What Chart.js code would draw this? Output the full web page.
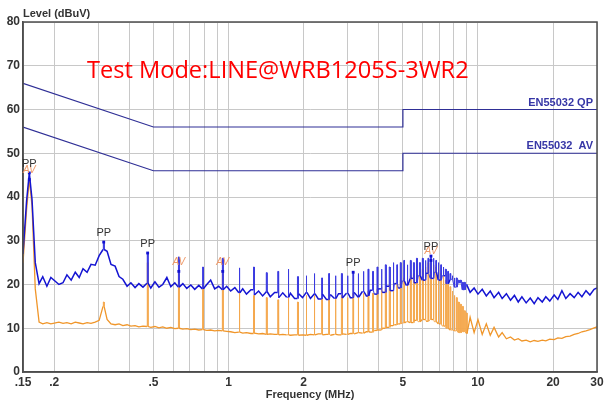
<!DOCTYPE html>
<html lang="en">
  <head>
    <meta charset="UTF-8" />
    <title>Conducted Emission - LINE</title>
    <script src="https://cdn.jsdelivr.net/npm/chart.js@4.4.0/dist/chart.umd.min.js"></script>
    <style>
      html,
      body {
        margin: 0;
        padding: 0;
        background: #fff;
      }
    </style>
  </head>
  <body>
    <canvas id="emiChart" width="604" height="405"></canvas>

    <script>
      // receiver sweep points (MHz) and the two detector traces (dBuV)
      const sweepMHz = [
        0.150, 0.155, 0.159, 0.163, 0.168, 0.174, 0.180, 0.187, 0.194, 0.209,
        0.217, 0.225, 0.234, 0.243, 0.252, 0.261, 0.271, 0.281, 0.292, 0.303,
        0.314, 0.326, 0.338, 0.351, 0.364, 0.377, 0.392, 0.406, 0.422, 0.437,
        0.454, 0.471, 0.488, 0.507, 0.526, 0.545, 0.566, 0.587, 0.609, 0.629,
        0.656, 0.680, 0.706, 0.732, 0.760, 0.786, 0.818, 0.848, 0.880, 0.913,
        0.945, 0.983, 1.02, 1.06, 1.10, 1.14, 1.18, 1.23, 1.27, 1.32,
        1.37, 1.42, 1.47, 1.53, 1.59, 1.65, 1.71, 1.77, 1.84, 1.91,
        1.98, 2.05, 2.13, 2.21, 2.29, 2.38, 2.47, 2.56, 2.66, 2.76,
        2.86, 2.97, 3.08, 3.19, 3.31, 3.44, 3.57, 3.70, 3.84, 3.98,
        4.13, 4.29, 4.45, 4.62, 4.79, 4.97, 5.16, 5.35, 5.55, 5.76,
        5.98, 6.20, 6.43, 6.68, 6.93, 7.19, 7.46, 7.74, 8.03, 8.33,
        8.64, 8.97, 9.30, 9.65, 10.0, 10.4, 10.8, 11.2, 11.6, 12.1,
        12.5, 13.0, 13.5, 14.0, 14.5, 15.0, 15.6, 16.2, 16.8, 17.4,
        18.1, 18.7, 19.4, 20.2, 20.9, 21.7, 22.5, 23.4, 24.3, 25.2,
        26.1, 27.1, 28.1, 29.2, 30.0,
      ];
      const peakTrace = [
        27, 39, 45.5, 39.5, 25, 20.2, 21.8, 19.6, 21.6, 20.0,
        20.4, 22.2, 21.0, 22.8, 21.6, 23.6, 22.8, 24.6, 24.4, 26.6,
        28.0, 27.6, 24.6, 24.2, 21.8, 21.2, 19.6, 20.4, 19.3, 20.2,
        19.4, 20.3, 19.2, 20.6, 19.4, 20.0, 21.6, 19.5, 20.4, 19.4,
        20.2, 19.1, 19.9, 18.9, 19.8, 19.0, 20.0, 21.0, 19.0, 19.6,
        18.8, 19.6, 18.5, 19.3, 18.1, 19.0, 17.8, 18.8, 17.6, 18.5,
        17.4, 18.4, 17.2, 18.2, 17.0, 18.1, 17.1, 18.0, 16.8, 17.9,
        17.0, 18.2, 16.8, 17.9, 16.7, 17.8, 16.6, 17.7, 16.8, 17.9,
        16.9, 18.0, 17.0, 18.2, 17.1, 18.4, 17.4, 18.7, 17.8, 19.0,
        18.2, 19.6, 18.6, 20.2, 19.2, 20.8, 19.8, 21.4, 20.4, 22.0,
        21.0, 22.6, 21.4, 22.8, 21.0, 22.0, 20.2, 21.2, 19.4, 20.4,
        18.8, 19.8, 18.2, 19.2, 17.8, 18.9, 17.4, 18.5, 17.0, 18.2,
        16.8, 17.9, 16.4, 17.5, 16.0, 17.2, 15.8, 16.9, 15.6, 17.0,
        16.0, 17.2, 16.2, 17.6, 16.6, 18.6, 16.8, 17.9, 17.0, 18.2,
        17.2, 18.6, 17.6, 18.9, 19.2,
      ];
      const avgTrace = [
        25, 37, 44, 38, 19, 11.4, 11.0, 11.3, 11.0, 11.4,
        11.1, 11.3, 11.0, 11.4, 11.2, 11.0, 11.3, 11.1, 11.4, 11.8,
        15.0, 12.0, 11.0, 10.8, 11.0, 10.6, 10.8, 10.5, 10.6, 10.3,
        10.5, 10.4, 10.2, 10.4, 10.1, 10.3, 10.0, 10.2, 9.9, 10.0,
        9.8, 9.9, 9.7, 9.8, 9.6, 9.7, 9.5, 9.6, 9.4, 9.5,
        9.4, 9.3, 9.2, 9.0, 9.1, 8.9, 9.0, 8.8, 8.9, 8.7,
        8.8, 8.6, 8.7, 8.6, 8.5, 8.6, 8.5, 8.4, 8.5, 8.4,
        8.5, 8.4, 8.6, 8.5, 8.7, 8.5, 8.6, 8.4, 8.6, 8.5,
        8.7, 8.6, 8.8, 8.7, 9.0, 8.9, 9.2, 9.1, 9.5, 9.6,
        10.0, 10.2, 10.6, 10.8, 11.0, 11.2, 11.5, 11.3, 11.8, 11.5,
        12.0, 11.6, 12.0, 11.5, 11.0, 10.5, 10.0, 9.6, 9.4, 9.0,
        9.2, 8.8, 12.5, 9.0, 12.0, 8.6, 11.0, 8.4, 10.2, 8.0,
        9.0, 7.6, 8.0, 7.3, 7.6, 7.1, 7.3, 6.9, 7.2, 7.0,
        7.3, 7.1, 7.5, 7.4, 7.8, 7.7, 8.1, 8.2, 8.6, 8.8,
        9.2, 9.4, 9.7, 10.1, 10.3,
      ];

      // harmonics of the ~158 kHz switcher and their spike tops
      const harmonicMHz = [
        0.316, 0.474, 0.632, 0.790, 0.948, 1.106, 1.264, 1.422, 1.580,
        1.738, 1.896, 2.054, 2.212, 2.370, 2.528, 2.686, 2.844, 3.002, 3.160,
        3.318, 3.476, 3.634, 3.792, 3.950, 4.108, 4.266, 4.424, 4.582, 4.740,
        4.898, 5.056, 5.214, 5.372, 5.530, 5.688, 5.846, 6.004, 6.162, 6.320,
        6.478, 6.636, 6.794, 6.952, 7.110, 7.268, 7.426, 7.584, 7.742, 7.900,
        8.058, 8.216, 8.374, 8.532, 8.690, 8.848, 9.006,
      ];
      const peakSpikes = [
        29.7, 27.2, 26.3, 24.0, 26.0, 23.8, 24.0, 22.7, 23.0,
        23.5, 21.8, 22.0, 22.5, 21.5, 22.5, 22.0, 22.5, 22.0, 22.8,
        22.5, 23.0, 23.5, 23.0, 24.0, 23.5, 24.5, 24.0, 25.0, 24.5,
        25.0, 25.5, 24.5, 25.5, 25.0, 26.0, 25.0, 26.0, 25.5, 26.0,
        26.5, 26.0, 25.5, 25.0, 24.5, 24.0, 23.5, 23.0, 22.5, 22.0,
        21.5, 21.5, 21.0, 21.0, 20.5, 20.5, 20.0,
      ];
      const avgSpikes = [
        16.0, 25.0, 23.5, 20.0, 23.0, 18.5, 17.5, 17.0, 16.5,
        17.0, 16.0, 17.5, 17.5, 17.0, 17.5, 17.0, 17.5, 17.0, 18.0,
        17.5, 18.0, 18.5, 18.0, 19.0, 19.5, 19.0, 20.0, 20.5, 20.0,
        21.0, 21.5, 21.0, 22.0, 22.5, 22.0, 23.0, 23.5, 24.0, 25.0,
        25.5, 24.5, 24.0, 23.5, 22.5, 22.0, 21.0, 20.0, 19.5, 18.5,
        17.5, 17.0, 16.0, 15.5, 15.0, 14.0, 13.5,
      ];

      // EN55032 class B limits
      const limitMHz = [0.15, 0.5, 5, 5, 30];
      const qpLimit = [66, 56, 56, 60, 60];
      const avLimit = [56, 46, 46, 50, 50];

      // markers
      const ppMHz = [0.159, 0.316, 0.474, 3.16, 6.478];
      const ppLevel = [45.5, 29.7, 27.2, 22.8, 26.5];
      const avMHz = [0.159, 0.632, 0.948, 6.478];
      const avLevel = [44.0, 23.0, 23.0, 25.5];

      // axis
      const gridMHz = [0.15, 0.2, 0.3, 0.4, 0.5, 0.6, 0.7, 0.8, 0.9, 1, 2, 3, 4, 5, 6, 7, 8, 9, 10, 20, 30];
      const xTickMHz = [0.15, 0.2, 0.5, 1, 2, 5, 10, 20, 30];
      const xTickText = [".15", ".2", ".5", "1", "2", "5", "10", "20", "30"];

      // each spike becomes a narrow flat-topped stroke standing on the trace
      const SPIKE_HALF = 1.0035;
      function withSpikes(freqs, levels, spikeF, spikeL) {
        const out = [];
        let s = 0;
        for (let i = 0; i < freqs.length; i++) {
          out.push({ x: freqs[i], y: levels[i] });
          const next = i + 1 < freqs.length ? freqs[i + 1] : Infinity;
          while (s < spikeF.length && spikeF[s] < next) {
            if (spikeF[s] >= freqs[i]) {
              const foot = levels[i];
              const lo = spikeF[s] / SPIKE_HALF;
              const hi = spikeF[s] * SPIKE_HALF;
              out.push({ x: lo, y: foot }, { x: lo, y: spikeL[s] }, { x: hi, y: spikeL[s] }, { x: hi, y: foot });
            }
            s++;
          }
        }
        return out;
      }

      // spike strokes are drawn a little thinner and paler, like the plotter does
      const spikeSegment = (base, pale) => ({
        borderColor: (c) => (Math.abs(c.p0.x - c.p1.x) < 1.5 ? pale : base),
        borderWidth: (c) => (Math.abs(c.p0.x - c.p1.x) < 1.5 ? 1 : undefined),
      });

      const pairs = (xs, ys) => xs.map((v, i) => ({ x: v, y: ys[i] }));

      const labelFont = 'bold 11px "Liberation Sans", Arial, sans-serif';

      const overlay = {
        id: "overlay",
        afterDraw(chart) {
          const { ctx, chartArea: a } = chart;
          const x = chart.scales.x;
          const y = chart.scales.y;
          ctx.save();

          ctx.strokeStyle = "#4d4d4d";
          ctx.lineWidth = 1.5;
          ctx.strokeRect(a.left, a.top, a.right - a.left, a.bottom - a.top);

          ctx.fillStyle = "#333";
          ctx.font = labelFont;
          ctx.textBaseline = "middle";
          ctx.textAlign = "left";
          ctx.fillText("Level (dBuV)", a.left, a.top - 8);
          ctx.textAlign = "center";
          ctx.fillText("Frequency (MHz)", (a.left + a.right) / 2, a.bottom + 23);

          ctx.fillStyle = "#3636a6";
          ctx.textAlign = "right";
          ctx.fillText("EN55032 QP", a.right - 4, y.getPixelForValue(qpLimit[4]) - 7);
          ctx.fillText("EN55032  AV", a.right - 4, y.getPixelForValue(avLimit[4]) - 7);

          ctx.textAlign = "center";
          ctx.font = 'italic 10px "Liberation Sans", Arial, sans-serif';
          ctx.fillStyle = "#ee9a6a";
          avMHz.forEach((f, i) => {
            ctx.fillText("AV", x.getPixelForValue(f), y.getPixelForValue(avLevel[i]) - 9);
          });
          ctx.font = '11px "Liberation Sans", Arial, sans-serif';
          ctx.fillStyle = "#333";
          ppMHz.forEach((f, i) => {
            ctx.fillText("PP", x.getPixelForValue(f), y.getPixelForValue(ppLevel[i]) - 9);
          });

          // red test-mode caption, sized to the width it has in the report
          const title = "Test Mode:LINE@WRB1205S-3WR2";
          ctx.font = '22px "Open Sans", sans-serif';
          const size = (22 * 381) / ctx.measureText(title).width;
          ctx.font = size.toFixed(1) + 'px "Open Sans", sans-serif';
          ctx.fillStyle = "#ff0000";
          ctx.textAlign = "left";
          ctx.textBaseline = "alphabetic";
          ctx.fillText(title, 87, 78);

          ctx.restore();
        },
      };

      const tickFont = { family: '"Liberation Sans", Arial, sans-serif', size: 12, weight: "bold" };

      new Chart(document.getElementById("emiChart"), {
        type: "line",
        data: {
          datasets: [
            {
              label: "markers",
              data: pairs(ppMHz, ppLevel).concat(pairs(avMHz, avLevel)),
              showLine: false,
              pointStyle: "rect",
              pointRadius: 2,
              pointBackgroundColor: "#1010d0",
              pointBorderWidth: 0,
              order: -1,
            },
            {
              label: "EN55032 QP",
              data: pairs(limitMHz, qpLimit),
              borderColor: "#2f2f96",
              borderWidth: 1.2,
              pointRadius: 0,
              order: 0,
            },
            {
              label: "EN55032 AV",
              data: pairs(limitMHz, avLimit),
              borderColor: "#2f2f96",
              borderWidth: 1.2,
              pointRadius: 0,
              order: 0,
            },
            {
              label: "Peak",
              data: withSpikes(sweepMHz, peakTrace, harmonicMHz, peakSpikes),
              borderColor: "#1414d2",
              borderWidth: 1.5,
              pointRadius: 0,
              segment: spikeSegment("#1414d2", "#3a3ae0"),
              order: 1,
            },
            {
              label: "Average",
              data: withSpikes(sweepMHz, avgTrace, harmonicMHz, avgSpikes),
              borderColor: "#f0962a",
              borderWidth: 1.3,
              pointRadius: 0,
              segment: spikeSegment("#f0962a", "#f4a84e"),
              order: 2,
            },
          ],
        },
        options: {
          responsive: false,
          animation: false,
          layout: { padding: { top: 22, right: 7, left: 0, bottom: 0 } },
          plugins: { legend: { display: false }, tooltip: { enabled: false } },
          scales: {
            x: {
              type: "logarithmic",
              min: 0.15,
              max: 30,
              afterBuildTicks: (s) => {
                s.ticks = gridMHz.map((v) => ({ value: v }));
              },
              afterFit: (s) => {
                s.height = 33;
                s.paddingLeft = 0;
                s.paddingRight = 0;
              },
              ticks: {
                autoSkip: false,
                maxRotation: 0,
                padding: 3,
                color: "#333",
                font: tickFont,
                callback: (v) => {
                  const i = xTickMHz.indexOf(v);
                  return i >= 0 ? xTickText[i] : "";
                },
              },
              grid: { color: "#c8c8c8", lineWidth: 1, drawTicks: false },
              border: { color: "#4d4d4d", width: 1.5 },
            },
            y: {
              min: 0,
              max: 80,
              afterFit: (s) => {
                s.width = 23;
              },
              ticks: { stepSize: 10, padding: 3, color: "#333", font: tickFont },
              grid: { color: "#c8c8c8", lineWidth: 1, drawTicks: false },
              border: { color: "#4d4d4d", width: 1.5 },
            },
          },
        },
        plugins: [overlay],
      });
    </script>
  </body>
</html>
